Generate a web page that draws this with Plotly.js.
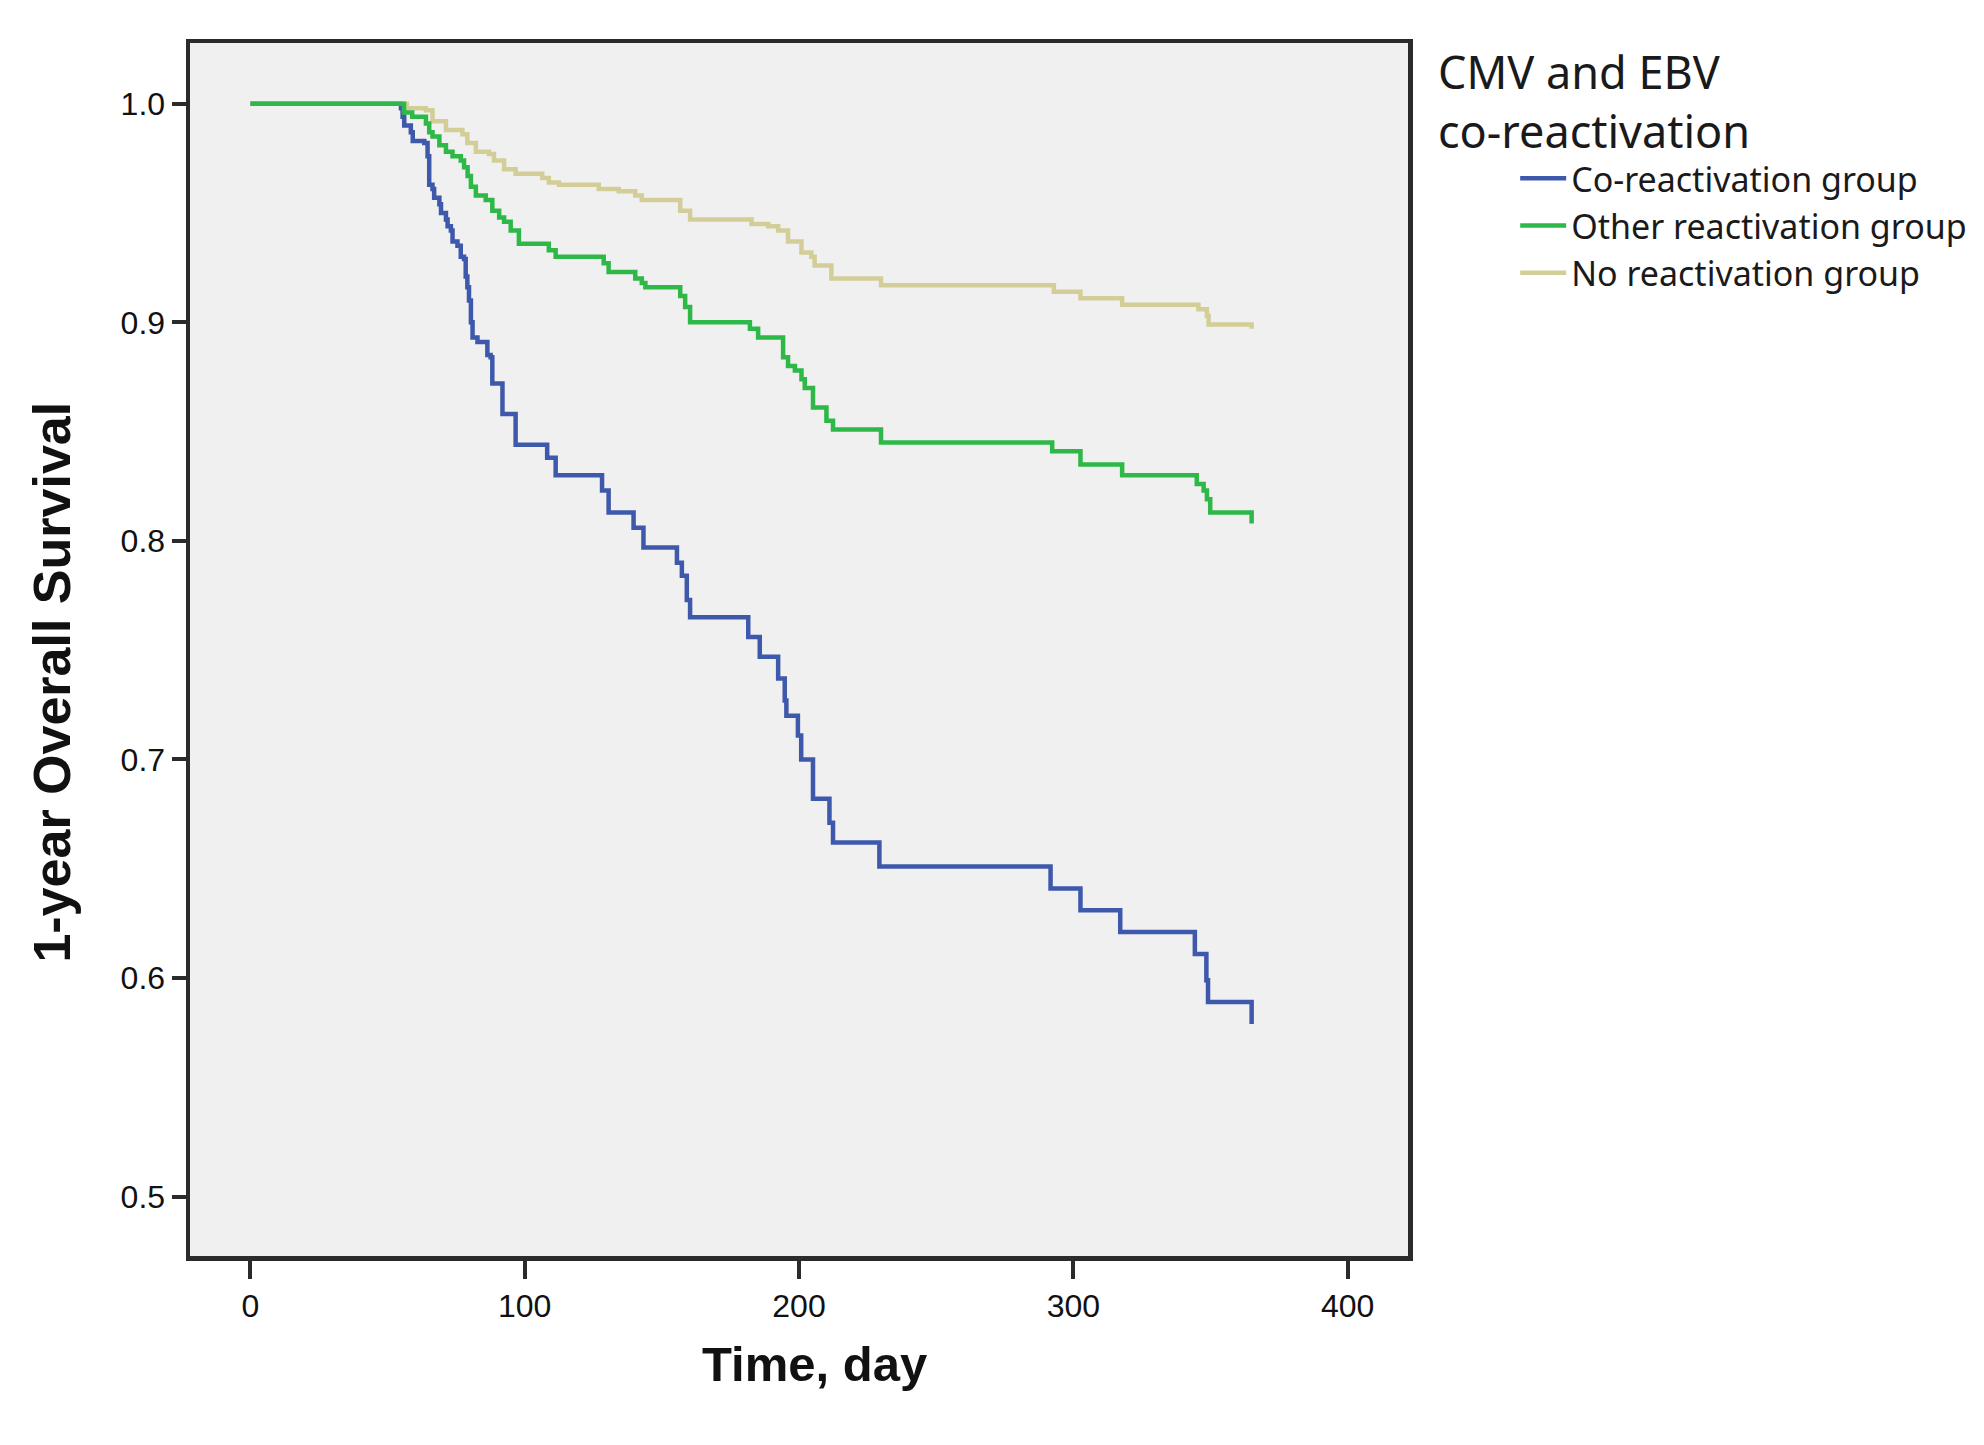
<!DOCTYPE html>
<html>
<head>
<meta charset="utf-8">
<script src="https://cdn.plot.ly/plotly-3.0.1.min.js"></script>
<style>
  body { margin: 0; background: #ffffff; }
  #km_plot { width: 1984px; height: 1445px; }
</style>
</head>
<body>
<div id="km_plot"></div>
<script>
// Kaplan-Meier steps: day of each drop and survival after it
const co_days = [0, 54.9, 55.5, 56.1, 58.5, 59.2, 63.4, 64.6, 65.2, 66.4, 67, 68.9, 69.5, 71.3, 71.9, 73.1, 73.7, 75.5, 76.7, 77.9, 78.5, 79.1, 79.7, 80.4, 81, 82.8, 86.4, 87.6, 88.2, 91.9, 96.7, 108.2, 111.3, 128.2, 130.6, 139.7, 143.3, 155.5, 157.3, 159.1, 160.3, 181.5, 185.7, 192.4, 194.8, 195.4, 199.6, 200.8, 205.1, 211.1, 212.4, 229.3, 291.7, 302.6, 317.1, 344.3, 348.5, 349.1, 365];
const co_surv = [1.0, 0.998, 0.994, 0.990, 0.987, 0.983, 0.982, 0.976, 0.963, 0.961, 0.957, 0.954, 0.950, 0.947, 0.944, 0.942, 0.937, 0.935, 0.930, 0.929, 0.921, 0.916, 0.910, 0.900, 0.893, 0.891, 0.885, 0.884, 0.872, 0.858, 0.844, 0.838, 0.830, 0.823, 0.813, 0.806, 0.797, 0.790, 0.784, 0.773, 0.765, 0.756, 0.747, 0.737, 0.727, 0.720, 0.711, 0.700, 0.682, 0.671, 0.662, 0.651, 0.641, 0.631, 0.621, 0.611, 0.599, 0.589, 0.579];

const other_days = [0, 56, 59, 64, 65.2, 66.4, 68.9, 71.3, 73.7, 76.7, 77.9, 79.2, 80.4, 82.2, 85.8, 88.2, 90.7, 92.5, 94.9, 97.9, 108.8, 111.3, 128.8, 130.6, 140.3, 142.7, 144, 156.7, 158.5, 160.3, 182.1, 185.1, 194.2, 196, 198.5, 200.9, 202.1, 205.1, 210, 212.4, 229.9, 292.3, 302.6, 317.8, 345, 347.5, 348.7, 349.9, 365];
const other_surv = [1.0, 0.996, 0.994, 0.991, 0.987, 0.985, 0.981, 0.978, 0.976, 0.974, 0.971, 0.967, 0.962, 0.958, 0.956, 0.951, 0.948, 0.946, 0.942, 0.936, 0.933, 0.930, 0.927, 0.923, 0.920, 0.918, 0.916, 0.912, 0.907, 0.900, 0.897, 0.893, 0.884, 0.880, 0.878, 0.874, 0.870, 0.861, 0.855, 0.851, 0.845, 0.841, 0.835, 0.830, 0.826, 0.823, 0.819, 0.813, 0.808];

const none_days = [0, 57, 64, 66.4, 71.3, 77.3, 79.1, 82.2, 87, 88.8, 92.5, 96.7, 106.4, 108.8, 112.5, 127, 134.3, 140.3, 142.7, 156.7, 160.3, 182.7, 188.8, 192.4, 196, 200.9, 204.5, 205.7, 211.8, 229.9, 292.9, 302.6, 317.8, 345.6, 348.7, 349.3, 365];
const none_surv = [1.0, 0.998, 0.997, 0.992, 0.988, 0.986, 0.982, 0.978, 0.977, 0.974, 0.970, 0.968, 0.966, 0.964, 0.963, 0.961, 0.960, 0.958, 0.956, 0.951, 0.947, 0.945, 0.944, 0.942, 0.937, 0.932, 0.930, 0.926, 0.920, 0.917, 0.914, 0.911, 0.908, 0.906, 0.903, 0.899, 0.897];

const group_names = ["Co-reactivation group", "Other reactivation group", "No reactivation group"];
const group_colors = ["#3e58ac", "#2eb848", "#d3ce97"];

const x_ticks = [0, 100, 200, 300, 400];
const y_ticks = [0.5, 0.6, 0.7, 0.8, 0.9, 1.0];

function step_trace(days, surv, idx) {
    return {
        x: days,
        y: surv,
        type: "scatter",
        mode: "lines",
        line: {shape: "hv", color: group_colors[idx], width: 4.5},
        name: group_names[idx],
        legendrank: idx + 1,
        hoverinfo: "x+y+name"
    };
}

// green drawn last so the shared flat start looks like the original
let data = [
    step_trace(co_days, co_surv, 0),
    step_trace(none_days, none_surv, 2),
    step_trace(other_days, other_surv, 1)
];

let axis_common = {
    showline: true,
    linecolor: "#2b2b2b",
    linewidth: 4.5,
    mirror: true,
    ticks: "outside",
    tickcolor: "#2b2b2b",
    tickwidth: 4,
    showgrid: false,
    zeroline: false,
    automargin: false,
    tickfont: {family: "Liberation Sans, Arial, sans-serif", size: 32, color: "#111111"}
};

let title_font = {family: "Liberation Sans, Arial, sans-serif", color: "#111111", weight: "bold"};
let legend_font = {family: "Noto Sans, Open Sans, sans-serif", color: "#1a1a1a"};

let layout = {
    width: 1984,
    height: 1445,
    margin: {l: 190, r: 572, t: 43, b: 189},
    paper_bgcolor: "#ffffff",
    plot_bgcolor: "#f0f0f0",
    showlegend: true,
    xaxis: {
        ...axis_common,
        range: [-22, 422],
        tickvals: x_ticks,
        ticklen: 18
    },
    yaxis: {
        ...axis_common,
        range: [0.4728, 1.0278],
        tickvals: y_ticks,
        tickformat: ".1f",
        ticklen: 14
    },
    legend: {
        x: 1.088,
        xanchor: "left",
        y: 0.912,
        yanchor: "top",
        bgcolor: "rgba(0,0,0,0)",
        itemwidth: 46,
        tracegroupgap: 0,
        font: {...legend_font, size: 34}
    },
    annotations: [
        {
            // legend heading
            xref: "paper", yref: "paper",
            x: 1.0229, y: 1.003,
            xanchor: "left", yanchor: "top", align: "left",
            showarrow: false,
            text: "CMV and EBV<br>co-reactivation",
            font: {...legend_font, size: 45}
        },
        {
            // y axis title, sits a bit below the plot middle in the original
            xref: "paper", yref: "paper",
            x: -0.113, y: 0.473,
            xanchor: "center", yanchor: "middle",
            textangle: -90,
            showarrow: false,
            text: "1-year Overall Survival",
            font: {...title_font, size: 52}
        },
        {
            // x axis title
            xref: "paper", yref: "paper",
            x: 0.513, y: -0.089,
            xanchor: "center", yanchor: "middle",
            showarrow: false,
            text: "Time, day",
            font: {...title_font, size: 49}
        }
    ]
};

let config = {responsive: false, displayModeBar: false, staticPlot: true};
Plotly.newPlot("km_plot", data, layout, config);
</script>
</body>
</html>
